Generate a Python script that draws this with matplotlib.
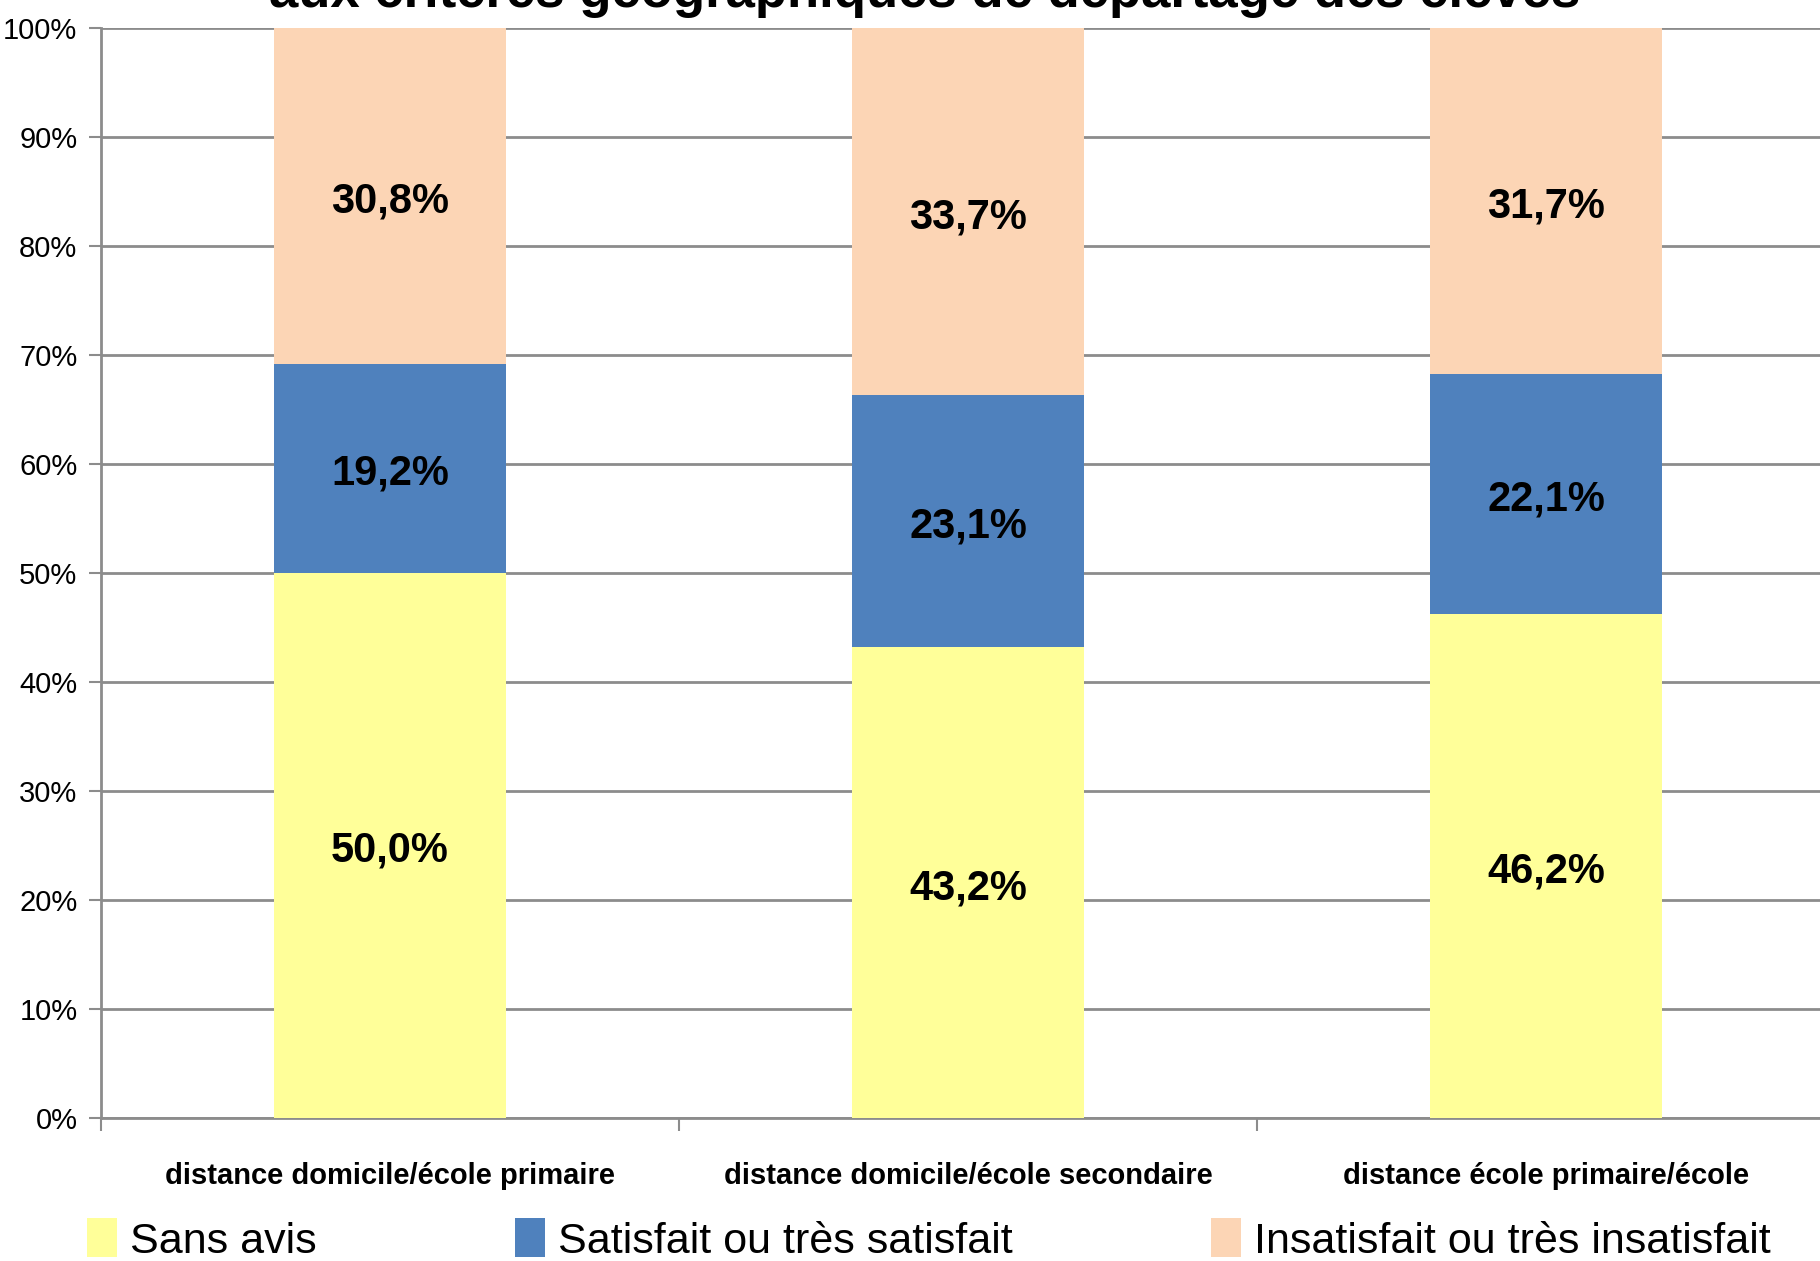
# Graphique en barres empilées (100%) - critères géographiques de départage
import matplotlib.pyplot as plt
import numpy as np

plt.rcParams['font.family'] = ['Liberation Sans', 'DejaVu Sans']

# Données
categories = ['distance domicile/école primaire',
              'distance domicile/école secondaire',
              'distance école primaire/école']
sans_avis = [50.0, 43.2, 46.2]
satisfait = [19.2, 23.1, 22.1]
insatisfait = [30.8, 33.7, 31.7]
series_noms = ['Sans avis', 'Satisfait ou très satisfait', 'Insatisfait ou très insatisfait']
couleurs = ['#FFFF99', '#4F81BD', '#FCD5B5']
titre = 'aux critères géographiques de départage des élèves'

fig = plt.figure(figsize=(18.2, 12.61), dpi=100)
ax = fig.add_axes([101 / 1820, 1 - 1118 / 1261, 1734 / 1820, (1118 - 28) / 1261])

x = np.arange(len(categories))
largeur = 0.4
bas = np.zeros(len(categories))
for vals, nom, coul in zip([sans_avis, satisfait, insatisfait], series_noms, couleurs):
    vals = np.array(vals)
    ax.bar(x, vals, largeur, bottom=bas, color=coul, label=nom, zorder=3)
    for xi, b, v in zip(x, bas, vals):
        ax.text(xi, b + v / 2 - 0.5, f'{v:.1f}%'.replace('.', ','), ha='center', va='center',
                fontsize=30, fontweight='bold', zorder=4)
    bas = bas + vals

ax.set_xlim(-0.5, 2.5)
ax.set_ylim(0, 100)
ax.set_yticks(np.arange(0, 101, 10))
ax.set_yticklabels([f'{v}%' for v in range(0, 101, 10)], fontsize=21)
ax.yaxis.grid(True, color='#8C8C8C', linewidth=2, zorder=0)
ax.set_xticks(x)
ax.set_xticklabels(categories, fontsize=21, fontweight='bold')
ax.set_xticks([-0.5, 0.5, 1.5, 2.5], minor=True)
ax.tick_params(axis='x', which='major', length=0, pad=32)
ax.tick_params(axis='x', which='minor', length=9, width=1.5, color='#8C8C8C')
ax.tick_params(axis='y', length=9, width=1.5, color='#8C8C8C', pad=8)

for s in ['top', 'right']:
    ax.spines[s].set_visible(False)
for s in ['left', 'bottom']:
    ax.spines[s].set_color('#8C8C8C')
    ax.spines[s].set_linewidth(2)

# titre coupé en haut, comme dans l'original
fig.text(925 / 1820, 1 - 7 / 1261, titre, ha='center', va='baseline',
         fontsize=38, fontweight='bold')

fig.legend(loc='center left', bbox_to_anchor=(70 / 1820, 1 - 1240 / 1261), ncol=3,
           fontsize=31, frameon=False, handlelength=0.7, handleheight=1.0,
           handletextpad=0.3, columnspacing=4.6, borderaxespad=0)

fig.savefig('out.png', dpi=100)
